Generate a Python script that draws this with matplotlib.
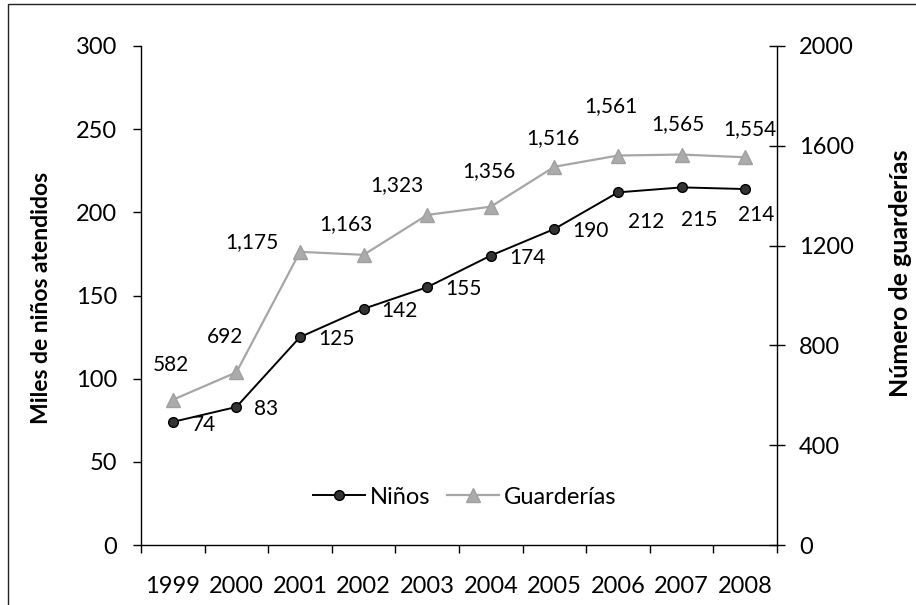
import numpy as np
import matplotlib
matplotlib.use("Agg")
import matplotlib.pyplot as plt
from matplotlib.patches import Rectangle

plt.rcParams['font.family'] = ['Lato', 'DejaVu Sans']

# datos
anios = ['1999', '2000', '2001', '2002', '2003', '2004', '2005', '2006', '2007', '2008']
ninos = [74, 83, 125, 142, 155, 174, 190, 212, 215, 214]
guarderias = [582, 692, 1175, 1163, 1323, 1356, 1516, 1561, 1565, 1554]

# desplazamiento de cada etiqueta (pixeles)
off_ninos = [(31, -3), (30, -2), (36, -2), (36, -2), (36, -2), (37, -2), (36, -2), (28, -30), (18, -33), (11, -26)]
off_guard = [(-2, 35), (-11, 35), (-48, 10), (-18, 31), (-30, 30), (-2, 36), (-2, 29), (-7, 49), (-4, 30), (5, 28)]

fig = plt.figure(figsize=(9.16, 6.05), dpi=100)
ax = fig.add_axes([141/916, 60/605, 636/916, 499/605])
ax2 = ax.twinx()

x = np.arange(len(anios))

l1, = ax.plot(x, ninos, color='black', lw=1.4, marker='o', ms=7,
              mfc='#333333', mec='black', mew=1, zorder=3, label='Niños')
l2, = ax2.plot(x, guarderias, color='#A6A6A6', lw=1.6, marker='^', ms=10,
               mfc='#ABABAB', mec='#A0A0A0', zorder=2, label='Guarderías')

for xi, v, (dx, dy) in zip(x, ninos, off_ninos):
    ax.annotate(f'{v:,}', (xi, v), xytext=(dx, dy), textcoords='offset pixels',
                ha='center', va='center', fontsize=15)
for xi, v, (dx, dy) in zip(x, guarderias, off_guard):
    ax2.annotate(f'{v:,}', (xi, v), xytext=(dx, dy), textcoords='offset pixels',
                 ha='center', va='center', fontsize=15)

ax.set_xlim(-0.5, len(anios) - 0.5)
ax.set_ylim(0, 300)
ax2.set_ylim(0, 2000)
ax.set_yticks(np.arange(0, 301, 50))
ax2.set_yticks(np.arange(0, 2001, 400))

# marcas entre categorias, etiquetas centradas
ax.set_xticks(np.arange(-0.5, len(anios), 1))
ax.set_xticklabels([])
ax.set_xticks(x, minor=True)
ax.set_xticklabels(anios, minor=True, fontsize=17)
ax.tick_params(axis='x', which='minor', length=0, pad=22)
ax.tick_params(axis='x', which='major', direction='out', length=6, width=1)
ax.tick_params(axis='y', direction='out', length=6, width=1, labelsize=17, pad=11)
ax2.tick_params(axis='y', direction='inout', length=12, width=1, labelsize=17, pad=10)

for a in (ax, ax2):
    a.spines['top'].set_visible(False)
    for s in ('left', 'right', 'bottom'):
        a.spines[s].set_linewidth(1)
ax.spines['right'].set_visible(False)
ax2.spines['left'].set_visible(False)
ax2.spines['bottom'].set_visible(False)

ax.set_ylabel('Miles de niños atendidos', fontsize=16.5, fontweight='bold')
ax.yaxis.set_label_coords(-0.14, 0.495)
ax2.set_ylabel('Número de guarderías', fontsize=18, fontweight='bold')
ax2.yaxis.set_label_coords(1.176, 0.545)

ax.legend(handles=[l1, l2], loc='center', bbox_to_anchor=(0.509, 0.096),
          ncol=2, frameon=False, fontsize=17, handlelength=2.2,
          handletextpad=0.2, columnspacing=0.7)

# marco exterior
fig.patches.append(Rectangle((8/916, -0.1), 2, (601/605) + 0.1,
                             transform=fig.transFigure, fill=False,
                             edgecolor='#222222', lw=1))

fig.savefig('out.png', dpi=100)
